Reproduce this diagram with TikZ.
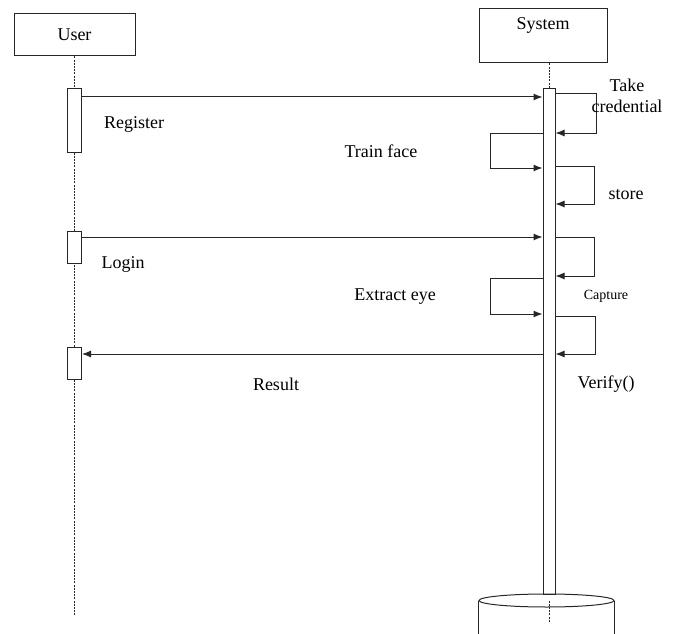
\documentclass[tikz,border=0pt]{standalone}
\usepackage{fontspec}
\setmainfont{Liberation Serif}
\usetikzlibrary{arrows.meta, shapes.geometric}

\begin{document}
\begin{tikzpicture}[
    x=1pt, y=-1pt,
    every node/.style={font=\fontsize{18}{21}\selectfont},
    obj/.style={rectangle, draw=black!85, line width=1pt},
    act/.style={rectangle, draw=black!85, line width=1pt, fill=white,
                minimum width=14pt, inner sep=0pt, anchor=north},
    life/.style={black!85, line width=0.9pt, dash pattern=on 2pt off 1.2pt},
    msg/.style={-{Latex[length=9pt, width=7pt]}, black!85, line width=1pt},
    lbl/.style={inner sep=0pt},
    small/.style={lbl, font=\fontsize{14}{16}\selectfont}
]
\useasboundingbox (0,0) rectangle (678,634);

% objects
\node[obj, minimum width=121pt, minimum height=42pt] (user) at (74.5,35) {User};
\node[obj, minimum width=128pt, minimum height=54pt,
      label={[anchor=north, yshift=-6pt]north:System}] (sys) at (543,36) {};

% lifelines
\coordinate (uend) at (74.5,615);
\coordinate (dend) at (549,622);
\draw[life] (user.south) -- (uend);

% activations
\node[act, minimum height=64pt] (ua1) at (74.5,88) {};
\node[act, minimum height=32pt] (ua2) at (74.5,231) {};
\node[act, minimum height=32pt] (ua3) at (74.5,347) {};
\node[act, minimum width=12pt, minimum height=506pt] (sa) at (549,88) {};
\draw[life] (sys.south -| sa.north) -- (sa.north);

% data store
\node[draw=black!85, ellipse, line width=1pt, minimum width=135pt,
      minimum height=13pt, inner sep=0pt] (db) at (546.5,600.5) {};
\draw[black!85, line width=1pt] (db.west) -- ++(0,40);
\draw[black!85, line width=1pt] (db.east) -- ++(0,40);
\draw[life] (db.center -| sa.south) -- (dend);

% messages
\draw[msg] (ua1.east |- 0,97) -- (sa.west |- 0,97);
\draw[msg] (sa.east |- 0,94) -- ++(41,0) |- (sa.east |- 0,133);
\draw[msg] (sa.west |- 0,133) -- ++(-52,0) |- (sa.west |- 0,168);
\draw[msg] (sa.east |- 0,166) -- ++(39,0) |- (sa.east |- 0,204);
\draw[msg] (ua2.east |- 0,237) -- (sa.west |- 0,237);
\draw[msg] (sa.east |- 0,237) -- ++(39,0) |- (sa.east |- 0,276);
\draw[msg] (sa.west |- 0,278) -- ++(-52,0) |- (sa.west |- 0,314);
\draw[msg] (sa.east |- 0,316) -- ++(40,0) |- (sa.east |- 0,354);
\draw[msg] (sa.west |- 0,354) -- (ua3.east |- 0,354);

% labels
\node[lbl] (tregister) at (134,124) {Register};
\node[lbl, align=center] (ttake) at (627,96) {Take\\credential};
\node[lbl] (ttrain) at (381,151) {Train face};
\node[lbl] (tstore) at (626,195) {store};
\node[lbl] (tlogin) at (123,264) {Login};
\node[lbl] (textract) at (395,297) {Extract eye};
\node[small] (tcapture) at (606,296) {Capture};
\node[lbl] (tresult) at (276,384) {Result};
\node[lbl] (tverify) at (606,384) {Verify()};
\end{tikzpicture}
\end{document}
